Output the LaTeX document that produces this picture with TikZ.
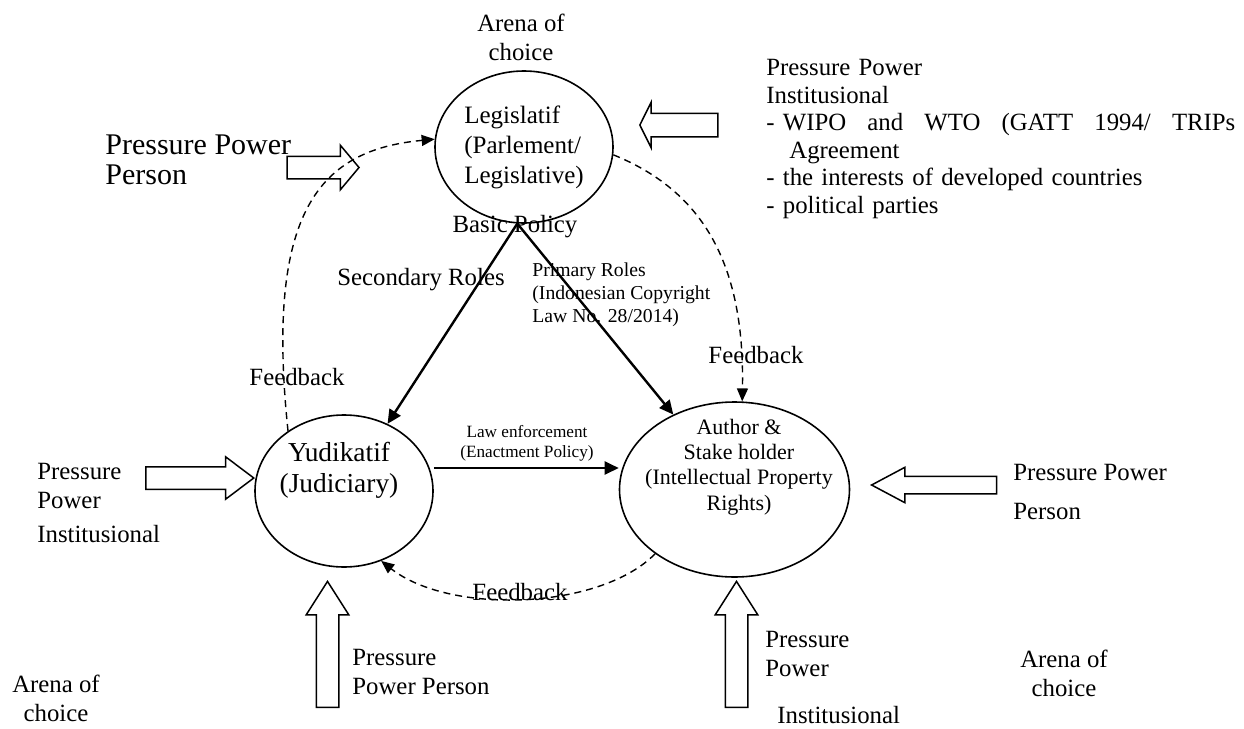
\documentclass[tikz,border=0pt]{standalone}
\usepackage{fontspec}
\setmainfont{Liberation Serif}
\usetikzlibrary{
    shapes.geometric,
    shapes.arrows,
    arrows.meta,
    positioning,
}
\tikzstyle{arena} = [ellipse, draw, line width=0.8pt, inner sep=0pt]
\tikzstyle{push} = [single arrow, draw, line width=0.75pt, inner sep=5.25pt,
    single arrow head indent=0pt, anchor=tip]
\tikzstyle{txt} = [inner sep=0pt, font=\fontsize{12.4}{14.5}\selectfont]
\tikzstyle{role} = [draw, line width=1.2pt,
    -{Triangle[length=7pt,width=6.5pt]}]
\tikzstyle{feedback} = [draw, line width=0.7pt, dash pattern=on 3.5pt off 2.5pt,
    -{Triangle[length=6.5pt,width=5.5pt]}]

\begin{document}
\begin{tikzpicture}[x=0.5pt, y=-0.5pt]
    \useasboundingbox (0,0) rectangle (1244,729);
    % Place nodes
    \node [arena, minimum width=89pt, minimum height=76pt, align=left,
        font=\fontsize{12.5}{15}\selectfont] (leg) at (524,147)
        {Legislatif\\(Parlement/\\Legislative)};
    \node [arena, minimum width=89pt, minimum height=76pt] (yud) at (344,491) {};
    \node [arena, minimum width=115pt, minimum height=87.5pt] (auth) at (734.5,489.5) {};
    \node [txt, align=center, font=\fontsize{13.7}{15.5}\selectfont] (yudText)
        at (339,470) {Yudikatif\\(Judiciary)};
    \node [txt, align=center, font=\fontsize{11}{12.7}\selectfont] (authText)
        at (739,467) {Author \&\\Stake holder\\(Intellectual Property\\Rights)};
    % Labels
    \node [txt, align=center] (arenaTop) at (521,37) {Arena of\\choice};
    \node [txt] (basic) at (515,227) {Basic Policy};
    \node [txt] (secondary) at (421,280) {Secondary Roles};
    \node [txt, align=left, anchor=west, font=\fontsize{9.85}{11.5}\selectfont]
        (primary) at (532,295) {Primary Roles\\(Indonesian Copyright\\Law No. 28/2014)};
    \node [txt] (fbLeft) at (297,377) {Feedback};
    \node [txt] (fbRight) at (756,355) {Feedback};
    \node [txt] (fbBottom) at (520,592) {Feedback};
    \node [txt, align=center, font=\fontsize{8.6}{10}\selectfont] (law)
        at (527,443) {Law enforcement\\(Enactment Policy)};
    \node [txt, align=left, anchor=west, font=\fontsize{15}{15}\selectfont]
        (bigPerson) at (105,160) {Pressure Power\\Person};
    \node [txt, align=left, anchor=north west, text width=234.5pt,
        font=\fontsize{12.4}{13.75}\selectfont] (topInst) at (766,59)
        {Pressure Power\\Institusional\\
        \makebox[234.5pt][l]{- WIPO\hfill and\hfill WTO\hfill (GATT\hfill 1994/\hfill TRIPs}\\
        \hspace*{11.5pt}Agreement\\- the interests of developed countries\\- political parties};
    \node [txt, align=left, anchor=west] (leftInst) at (37,503)
        {Pressure\\Power\\[2.5pt]Institusional};
    \node [txt, align=center] (arenaLeft) at (56,698) {Arena of\\choice};
    \node [txt, align=left, anchor=west] (bottomPerson) at (352,672)
        {Pressure\\Power Person};
    \node [txt, align=left, anchor=west, font=\fontsize{12.4}{19.5}\selectfont]
        (rightPerson) at (1013,492) {Pressure Power\\Person};
    \node [txt, align=left, anchor=north west] (bottomInst) at (765,631)
        {Pressure\\Power\\[9pt]\hspace*{6pt}Institusional};
    \node [txt, align=center] (arenaRight) at (1064,673) {Arena of\\choice};
    % Pressure arrows
    \node [push, minimum height=36pt,
        single arrow head extend=5.5pt, single arrow tip angle=100]
        (pushLeg) at (360,167.5) {};
    \node [push, shape border rotate=180, minimum height=39pt, inner sep=5.5pt,
        single arrow head extend=5.5pt, single arrow tip angle=127]
        (pushInst) at (639,125) {};
    \node [push, minimum height=54pt,
        single arrow head extend=5pt, single arrow tip angle=74]
        (pushYud) at (255,478) {};
    \node [push, shape border rotate=90, minimum height=63pt,
        single arrow head extend=5pt, single arrow tip angle=65]
        (pushYudBelow) at (327.5,580) {};
    \node [push, shape border rotate=90, minimum height=63pt,
        single arrow head extend=5pt, single arrow tip angle=65]
        (pushAuthBelow) at (736.5,580) {};
    \node [push, shape border rotate=180, minimum height=62.5pt, inner sep=4pt,
        single arrow head extend=4.5pt, single arrow tip angle=56]
        (pushAuth) at (870,485) {};
    % Draw edges
    \path [role] (leg.265) -- (yud);
    \path [role] (leg.265) -- (auth);
    \path [role] ([yshift=11.5pt]yud.east) -- ([yshift=11.5pt]yud.east -| auth.west);
    \path [feedback] (yud.133) .. controls (265,210) and (320,150) .. (leg.175);
    \path [feedback] (leg.355) .. controls (700,190) and (745,260) .. (auth.85);
    \path [feedback] (auth.219) .. controls (600,610) and (450,615) .. (yud.298);
\end{tikzpicture}
\end{document}
